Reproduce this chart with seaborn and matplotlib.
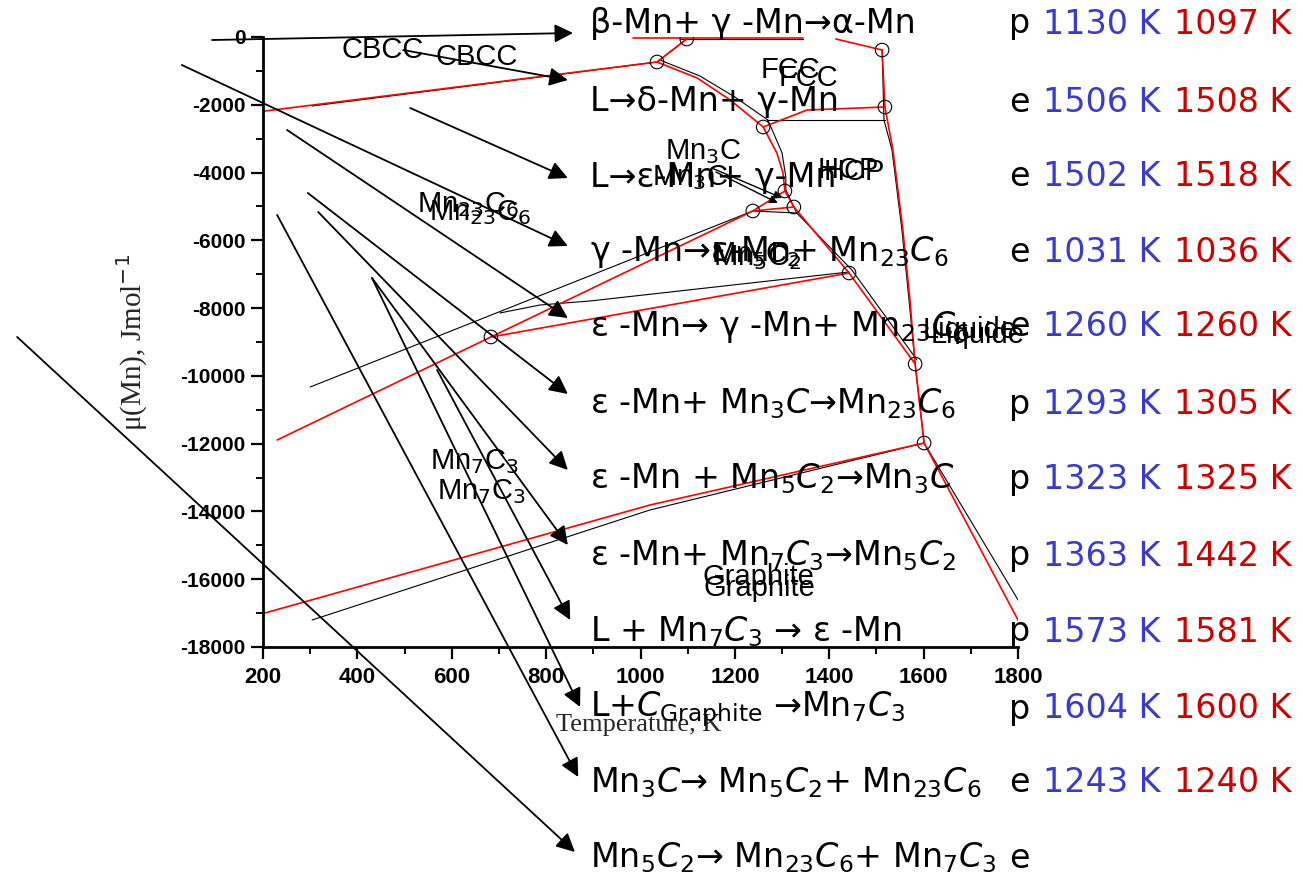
import matplotlib
matplotlib.use("Agg")
import matplotlib.pyplot as plt
import seaborn as sns
import numpy as np

# ---------------- data (T in K, mu in J/mol) ----------------
# red calculation
red_a_T = [204, 1035];                    red_a_mu = [-2184, -738]
red_b_T = [1035, 1098];                   red_b_mu = [-738, -59]
red_c_T = [984, 1344];                    red_c_mu = [-15, -15]
red_d_T = [1414, 1512];                   red_d_mu = [-59, -384]
red_e_T = [1512, 1518, 1535, 1556, 1571, 1582, 1601, 1800]
red_e_mu = [-384, -2066, -3334, -5695, -7757, -9649, -11980, -17203]
red_f_T = [1035, 1120, 1190, 1260, 1289, 1302, 1306]
red_f_mu = [-738, -1210, -1859, -2656, -3423, -4013, -4544]
red_g_T = [1306, 1325, 1442, 1582];       red_g_mu = [-4544, -5016, -6964, -9649]
red_h_T = [1238, 1306];                   red_h_mu = [-5134, -4544]
red_i_T = [1238, 1325];                   red_i_mu = [-5134, -5016]
red_j_T = [230, 683, 1238];               red_j_mu = [-11892, -8852, -5134]
red_k_T = [683, 1442];                    red_k_mu = [-8852, -6964]
red_l_T = [204, 1020, 1601];              red_l_mu = [-16997, -13810, -11980]
red_m_T = [1260, 1353, 1518];             red_m_mu = [-2656, -2154, -2066]

# black calculation
blk_a_T = [304, 1035];                    blk_a_mu = [-2036, -738]
blk_b_T = [1035, 1098];                   blk_b_mu = [-738, -59]
blk_c_T = [1084, 1344];                   blk_c_mu = [-45, -45]
blk_e_T = [1512, 1516, 1533, 1554, 1569, 1582, 1601, 1804]
blk_e_mu = [-384, -2449, -3334, -5695, -7757, -9649, -11980, -16702]
blk_f_T = [1041, 1126, 1200, 1270, 1300, 1308, 1308]
blk_f_mu = [-679, -1151, -1771, -2449, -3423, -4131, -4515]
blk_g_T = [1308, 1331, 1448, 1586];       blk_g_mu = [-4515, -5193, -6875, -9531]
blk_h_T = [1238, 1331];                   blk_h_mu = [-5134, -5193]
blk_j_T = [300, 1238];                    blk_j_mu = [-10328, -5134]
blk_k_T = [702, 787, 893, 1442];          blk_k_mu = [-8144, -7908, -7790, -6934]
blk_l_T = [304, 1020, 1601];              blk_l_mu = [-17203, -13957, -11980]
blk_m_T = [1268, 1518];                   blk_m_mu = [-2449, -2449]

# invariant points (open circles)
pts_T = [1035, 1098, 1512, 1518, 1260, 1306, 1238, 1325, 1442, 1582, 1601, 683]
pts_mu = [-738, -59, -384, -2066, -2656, -4544, -5134, -5016, -6964, -9649, -11980, -8852]

# reactions, type and temperatures
reactions = [
    r"β-Mn+ γ -Mn→α-Mn",
    r"L→δ-Mn+ γ-Mn",
    r"L→ε-Mn+ γ-Mn",
    r"γ -Mn→ε-Mn+ Mn$_{23}C_6$",
    r"ε -Mn→ γ -Mn+ Mn$_{23}C_6$",
    r"ε -Mn+ Mn$_3C$→Mn$_{23}C_6$",
    r"ε -Mn + Mn$_5C_2$→Mn$_3C$",
    r"ε -Mn+ Mn$_7C_3$→Mn$_5C_2$",
    r"L + Mn$_7C_3$ → ε -Mn",
    r"L+$C_{\mathrm{Graphite}}$ →Mn$_7C_3$",
    r"Mn$_3C$→ Mn$_5C_2$+ Mn$_{23}C_6$",
    r"Mn$_5C_2$→ Mn$_{23}C_6$+ Mn$_7C_3$",
]
rtype = ["p", "e", "e", "e", "e", "p", "p", "p", "p", "p", "e", "e"]
temp_blue = ["1130 K", "1506 K", "1502 K", "1031 K", "1260 K", "1293 K",
             "1323 K", "1363 K", "1573 K", "1604 K", "1243 K", ""]
temp_red = ["1097 K", "1508 K", "1518 K", "1036 K", "1260 K", "1305 K",
            "1325 K", "1442 K", "1581 K", "1600 K", "1240 K", ""]

# arrow tails/heads (data coords) pointing to each reaction
arr_tail_T = [92, 497, 512, 28, 251, 295, 317, 431, 569, 431, 230, -321]
arr_tail_mu = [-89, -384, -2095, -826, -2744, -4603, -5164, -7111, -9826, -7111, -5252, -8852]
arr_head_T = [857, 846, 846, 846, 846, 846, 846, 846, 851, 872, 868, 861]
arr_head_mu = [118, -1269, -4161, -6167, -8292, -10534, -12777, -14990, -17203, -19770, -21836, -24049]

# phase labels (two overlapping copies as in the source)
phase_labels = ["CBCC", "CBCC", "FCC", "FCC", "Mn$_3$C", "Mn$_3$C", "HCP", "HCP",
                "Mn$_{23}$C$_6$", "Mn$_{23}$C$_6$", "Mn$_5$C$_2$", "Mn$_5$C$_2$",
                "Liquide", "Liquide", "Mn$_7$C$_3$", "Mn$_7$C$_3$", "Graphite", "Graphite"]
label_T = [454, 653, 1317, 1355, 1132, 1105, 1440, 1454, 634, 660, 1243, 1247,
           1698, 1715, 649, 664, 1249, 1253]
label_mu = [-384, -590, -974, -1210, -3393, -4161, -3925, -3984, -4957, -5193, -6433, -6522,
            -8646, -8794, -12541, -13426, -15934, -16259]

xticks = [200, 400, 600, 800, 1000, 1200, 1400, 1600, 1800]
yticks = [0, -2000, -4000, -6000, -8000, -10000, -12000, -14000, -16000, -18000]

# ---------------- style ----------------
sns.set_theme(style="ticks")
plt.rcParams["font.family"] = ["DejaVu Sans"]
plt.rcParams["mathtext.fontset"] = "dejavusans"
plt.rcParams["axes.unicode_minus"] = False

W, H = 1303, 885
fig = plt.figure(figsize=(W / 100, H / 100), dpi=100)
ax = fig.add_axes([263 / W, 1 - 647 / H, 755 / W, 610 / H])

red_lines = [(red_a_T, red_a_mu), (red_b_T, red_b_mu), (red_c_T, red_c_mu), (red_d_T, red_d_mu),
             (red_e_T, red_e_mu), (red_f_T, red_f_mu), (red_g_T, red_g_mu), (red_h_T, red_h_mu),
             (red_i_T, red_i_mu), (red_j_T, red_j_mu), (red_k_T, red_k_mu), (red_l_T, red_l_mu),
             (red_m_T, red_m_mu)]
blk_lines = [(blk_a_T, blk_a_mu), (blk_b_T, blk_b_mu), (blk_c_T, blk_c_mu), (blk_e_T, blk_e_mu),
             (blk_f_T, blk_f_mu), (blk_g_T, blk_g_mu), (blk_h_T, blk_h_mu), (blk_j_T, blk_j_mu),
             (blk_k_T, blk_k_mu), (blk_l_T, blk_l_mu), (blk_m_T, blk_m_mu)]

for T, mu in blk_lines:
    sns.lineplot(x=T, y=mu, sort=False, estimator=None, color="black", lw=0.8, ax=ax)
for T, mu in red_lines:
    sns.lineplot(x=T, y=mu, sort=False, estimator=None, color="#ff0000", lw=1.2, ax=ax)

sns.scatterplot(x=pts_T, y=pts_mu, marker="o", s=95, facecolor="none",
                edgecolor="black", linewidth=0.8, ax=ax, zorder=5)

ax.set_xlim(200, 1800)
ax.set_ylim(-18000, 0)
ax.set_xticks(xticks)
ax.set_yticks(yticks)
ax.set_xticks(np.arange(300, 1800, 200), minor=True)
ax.set_yticks(np.arange(-17000, 0, 2000), minor=True)
ax.set_xticklabels([str(v) for v in xticks], fontfamily="Liberation Sans", fontweight="bold", fontsize=16)
ax.set_yticklabels([str(v) for v in yticks], fontfamily="Liberation Sans", fontweight="bold", fontsize=15)
ax.tick_params(which="major", direction="out", length=8.5, width=1.6, colors="black")
ax.tick_params(which="minor", direction="out", length=5, width=1.4, colors="black")
ax.tick_params(axis="x", which="major", pad=6)
ax.tick_params(axis="y", which="major", pad=4)
for s in ["top", "right"]:
    ax.spines[s].set_visible(False)
for s in ["left", "bottom"]:
    ax.spines[s].set_linewidth(2.0)
    ax.spines[s].set_color("black")
ax.set_facecolor("white")

ax.set_xlabel("Temperature, K", fontfamily="Liberation Serif", fontsize=19)
ax.set_ylabel("μ(Mn), Jmol$^{-1}$", fontfamily="Liberation Serif", fontsize=21)
ax.xaxis.set_label_coords(0.497, -0.110)
ax.yaxis.set_label_coords(-0.150, 0.50)

# phase labels
for lab, T, mu in zip(phase_labels, label_T, label_mu):
    ax.text(T, mu, lab, fontfamily="Liberation Sans", fontsize=21, ha="center", va="center",
            color="black", clip_on=False)

# small arrows from Mn3C labels
ax.annotate("", xy=(1300, -4751), xytext=(1151, -3866),
            arrowprops=dict(arrowstyle="-|>", mutation_scale=12, lw=1.0, color="black",
                            shrinkA=0, shrinkB=0), annotation_clip=False)
ax.annotate("", xy=(1291, -4899), xytext=(1160, -3984),
            arrowprops=dict(arrowstyle="-|>", mutation_scale=12, lw=1.0, color="black",
                            shrinkA=0, shrinkB=0), annotation_clip=False)

# arrows to reactions
for tT, tm, hT, hm in zip(arr_tail_T, arr_tail_mu, arr_head_T, arr_head_mu):
    ax.annotate("", xy=(hT, hm), xytext=(tT, tm),
                arrowprops=dict(arrowstyle="-|>", mutation_scale=28, lw=1.3, color="black",
                                shrinkA=0, shrinkB=0),
                annotation_clip=False)

# reaction list on the right
row_y = [24, 102, 177, 252, 327, 404, 479, 556, 632, 709, 783, 858]
for i, (txt, t, tb, tr) in enumerate(zip(reactions, rtype, temp_blue, temp_red)):
    yy = 1 - row_y[i] / H
    fig.text(590 / W, yy, txt, fontsize=24, ha="left", va="center", color="black")
    fig.text(1009 / W, yy, t, fontsize=24, ha="left", va="center", color="black")
    if tb:
        fig.text(1043 / W, yy, tb, fontsize=24, ha="left", va="center", color="#3a3acc")
        fig.text(1174 / W, yy, tr, fontsize=24, ha="left", va="center", color="#cc0000")

fig.savefig("out.png", dpi=100, facecolor="white")
